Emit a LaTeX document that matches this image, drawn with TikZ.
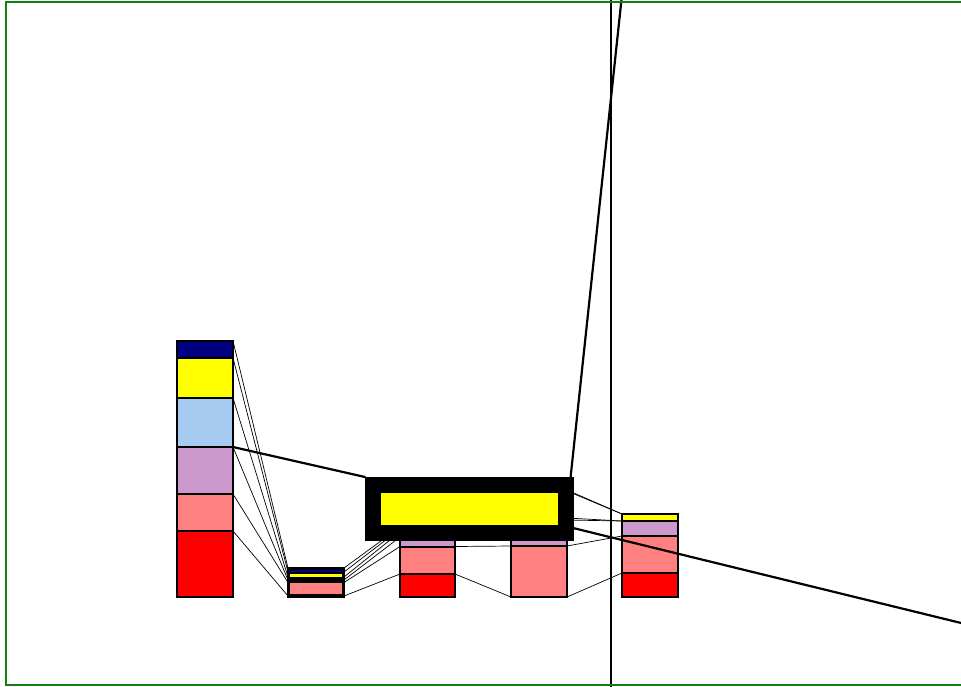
\documentclass[tikz,border=0pt]{standalone}
\definecolor{cnavy}{RGB}{0,0,128}
\definecolor{cyel}{RGB}{255,255,0}
\definecolor{clb}{RGB}{166,202,240}
\definecolor{clil}{RGB}{204,153,204}
\definecolor{csal}{RGB}{255,128,128}
\definecolor{cred}{RGB}{255,0,0}
\definecolor{cgreen}{RGB}{16,128,16}
\newcommand\stackdef[4]{%
  \foreach \y [count=\i] in {#4} {\coordinate (#1L\i) at (#2,\y); \coordinate (#1R\i) at (#3,\y);}}
\begin{document}
\begin{tikzpicture}[x=1pt,y=-1pt,
  seg/.style={draw=black,line width=2pt},
  flow/.style={draw=black,line width=0.7pt},
  pointer/.style={draw=black,line width=2.2pt,line cap=round},
  boxnode/.style={draw=black,line width=16pt,fill=cyel,minimum width=193pt,minimum height=48pt,inner sep=0pt}]
\useasboundingbox (0,0) rectangle (961,686);
\clip (0,0) rectangle (961,686);
\stackdef{a}{177}{233}{341,358,398,447,494,531,597}
\stackdef{b}{288}{344}{568,572,577,580,582.5,596,596.5}
\stackdef{c}{400}{455}{527,529,532,537,546.5,574,597}
\stackdef{d}{511}{567}{490,491,518,520,546,597,597}
\stackdef{e}{622}{678}{514,514,521,521,536,573,597}
% flows
\foreach \p/\q in {a/b,b/c,c/d,d/e}
  \foreach \i in {1,...,6}
    \draw[flow] (\p R\i) -- (\q L\i);
% stacks
\foreach \s in {a,c,d,e}
  \foreach \i/\col in {1/cnavy,2/cyel,3/clb,4/clil,5/csal,6/cred} {
    \pgfmathtruncatemacro\j{\i+1}
    \draw[seg,fill=\col] (\s L\i) rectangle (\s R\j);
  }
\draw[seg,fill=black] (bL1) rectangle (bR7);
\fill[cnavy] (290,569.5) rectangle (342,571.5);
\fill[cyel] (290,573.5) rectangle (342,576.5);
\fill[csal] (290,582.8) rectangle (342,594);
% highlighted box
\node[boxnode] (box) at (469.5,509) {};
% pointer lines
\coordinate (pr) at (573,528);
\coordinate (prend) at (1000,632.5);
\coordinate (pu) at (570.5,478);
\coordinate (puend) at (622.5,-10);
\draw[pointer] (aR4) -- (box.north west);
\draw[pointer] (pr) -- (prend);
\draw[pointer] (pu) -- (puend);
% vertical line
\coordinate (vt) at (611,-5);
\coordinate (vb) at (611,700);
\draw[line width=2pt] (vt) -- (vb);
% frame
\draw[cgreen,line width=2pt] (6,2) rectangle (1000,685);
\end{tikzpicture}
\end{document}
